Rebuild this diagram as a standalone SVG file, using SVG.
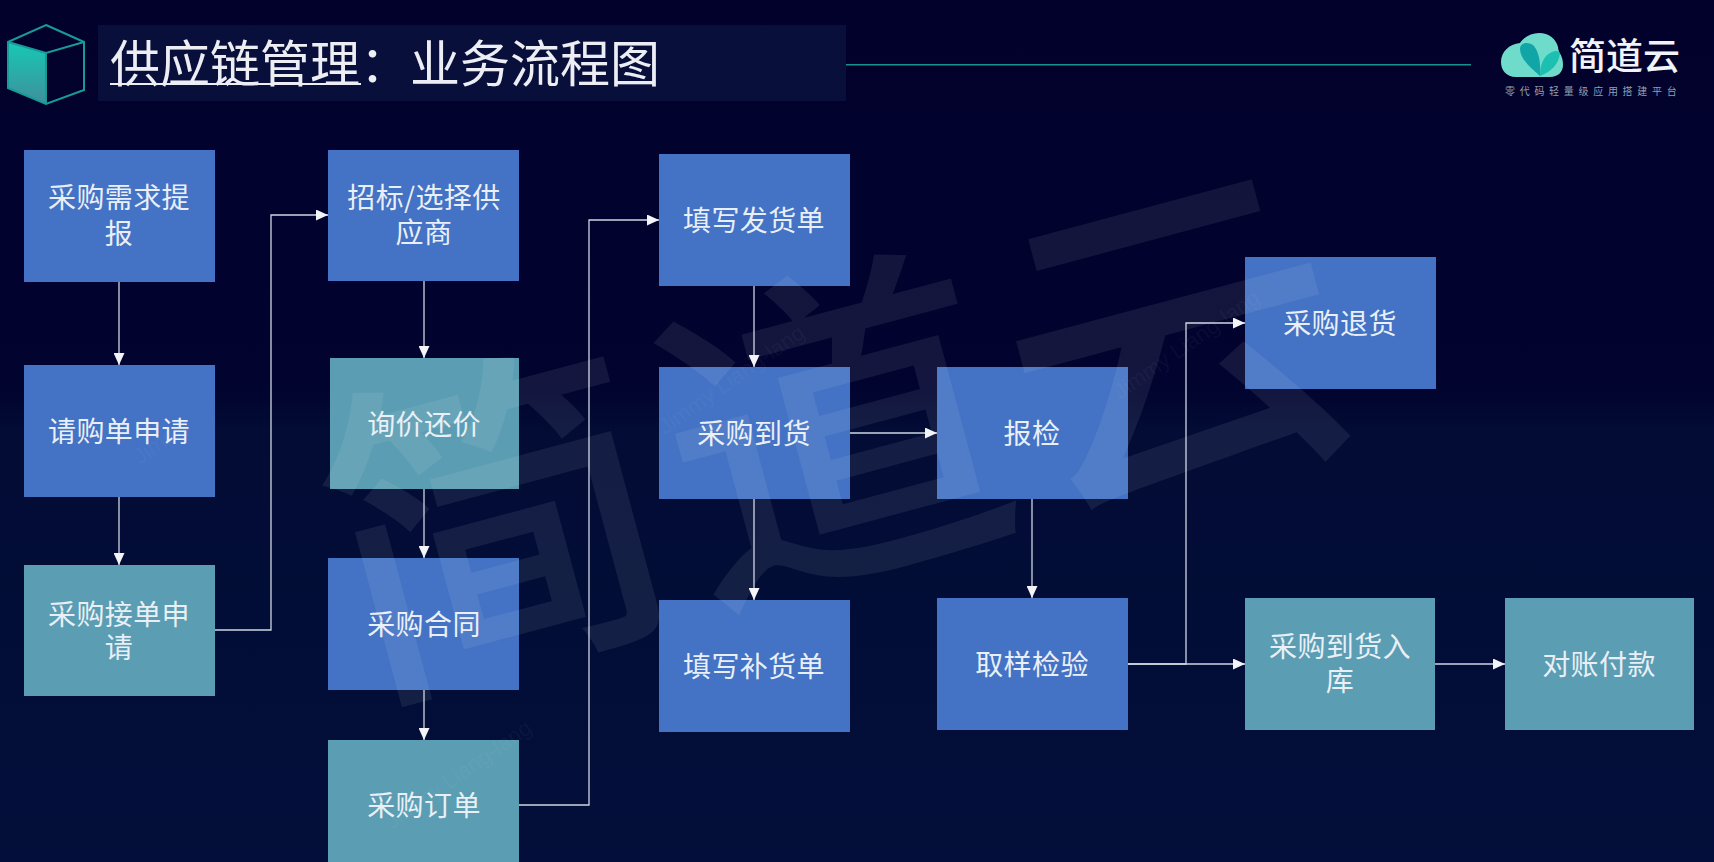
<svg xmlns="http://www.w3.org/2000/svg" width="1714" height="862" viewBox="0 0 1714 862">
<style>
.b{fill:#4472c4}.t{fill:#5b9db3}
.l{font-family:"Noto Sans CJK SC","Noto Sans",sans-serif;font-size:28px;fill:#e9eff6;text-anchor:middle;letter-spacing:.4px}
.c{fill:none;stroke:#cfd6e2;stroke-width:1.3;marker-end:url(#a)}
.wm{font-family:"Noto Sans CJK SC",sans-serif;fill:#fff;text-anchor:middle;font-weight:500}
.sm{font-family:"Liberation Sans",sans-serif;font-size:22px;fill:#fff;fill-opacity:.05}
</style>
<defs>
<linearGradient id="bg" x1="0" y1="0" x2="0" y2="1"><stop offset="0" stop-color="#01012c"/><stop offset=".45" stop-color="#01042f"/><stop offset=".5" stop-color="#020c35"/><stop offset="1" stop-color="#030f3a"/></linearGradient>
<linearGradient id="cube" x1="0" y1="0" x2="0" y2="1"><stop offset="0" stop-color="#16c9b4"/><stop offset="1" stop-color="#3f8f9c"/></linearGradient>
<marker id="a" markerUnits="userSpaceOnUse" markerWidth="12" markerHeight="11" refX="12" refY="5.5" orient="auto"><path d="M0 0L12 5.5L0 11Z" fill="#f2f4f8"/></marker>
</defs>
<rect width="1714" height="862" fill="url(#bg)"/>
<g id="header">
<rect x="98" y="25" width="748" height="76" fill="#080f3a"/>
<path d="M8 42L46 53V104L8 88Z" fill="url(#cube)"/>
<path d="M46 25L84 42V90L46 104L8 88V42ZM8 42L46 53L84 42M46 53V104" fill="none" stroke="#189a98" stroke-width="2"/>
<text x="110" y="82" font-family="'Noto Sans CJK SC',sans-serif" font-size="50" fill="#eceef4">供应链管理：业务流程图</text>
<rect x="110" y="83" width="251" height="2" fill="#eceef4"/>
<rect x="846" y="64" width="625" height="1.5" fill="#18928f"/>
</g>
<g id="logo">
<path d="M1516 77C1506 77 1501 70 1501 62C1501 52 1509 44 1520 43C1524 37 1531 33 1539 33C1549 33 1556 39 1558 47C1558 49 1559 51 1559 52C1562 56 1563 60 1563 65C1563 72 1558 77 1550 77Z" fill="#6fdccb"/>
<path d="M1540 76C1530 68 1520 58 1520 49C1520 43 1527 41 1533 45C1538 50 1541 60 1540 76Z" fill="#12a5a8"/>
<path d="M1540 76C1540 64 1544 55 1552 52C1556 50 1559 51 1560 53C1559 64 1551 72 1540 76Z" fill="#1cc0b0"/>
<text x="1569" y="70" font-family="'Noto Sans CJK SC',sans-serif" font-size="37" font-weight="500" fill="#f0f3f7">简道云</text>
<text x="1505" y="95" font-family="'Noto Sans CJK SC',sans-serif" font-size="10" letter-spacing="4.7" fill="#8fa0b4">零代码轻量级应用搭建平台</text>
</g>
<g id="n1"><rect class="b" x="24" y="150" width="191" height="132"/><text class="l" x="119" y="208">采购需求提</text><text class="l" x="119" y="244">报</text></g>
<g id="n2"><rect class="b" x="24" y="365" width="191" height="132"/><text class="l" x="119" y="442">请购单申请</text></g>
<g id="n3"><rect class="t" x="24" y="565" width="191" height="131"/><text class="l" x="119" y="625">采购接单申</text><text class="l" x="119" y="658">请</text></g>
<g id="n4"><rect class="b" x="328" y="150" width="191" height="131"/><text class="l" x="424" y="208">招标/选择供</text><text class="l" x="424" y="243">应商</text></g>
<g id="n5"><rect class="t" x="330" y="358" width="189" height="131"/><text class="l" x="424" y="435">询价还价</text></g>
<g id="n6"><rect class="b" x="328" y="558" width="191" height="132"/><text class="l" x="424" y="635">采购合同</text></g>
<g id="n7"><rect class="t" x="328" y="740" width="191" height="122"/><text class="l" x="424" y="816">采购订单</text></g>
<g id="n8"><rect class="b" x="659" y="154" width="191" height="132"/><text class="l" x="754" y="231">填写发货单</text></g>
<g id="n9"><rect class="b" x="659" y="367" width="191" height="132"/><text class="l" x="754" y="444">采购到货</text></g>
<g id="n10"><rect class="b" x="659" y="600" width="191" height="132"/><text class="l" x="754" y="677">填写补货单</text></g>
<g id="n11"><rect class="b" x="937" y="367" width="191" height="132"/><text class="l" x="1032" y="444">报检</text></g>
<g id="n12"><rect class="b" x="937" y="598" width="191" height="132"/><text class="l" x="1032" y="675">取样检验</text></g>
<g id="n13"><rect class="b" x="1245" y="257" width="191" height="132"/><text class="l" x="1340" y="334">采购退货</text></g>
<g id="n14"><rect class="t" x="1245" y="598" width="190" height="132"/><text class="l" x="1340" y="657">采购到货入</text><text class="l" x="1340" y="691">库</text></g>
<g id="n15"><rect class="t" x="1505" y="598" width="189" height="132"/><text class="l" x="1599" y="675">对账付款</text></g>
<g id="connectors">
<path class="c" d="M119 282V365"/>
<path class="c" d="M119 497V565"/>
<path class="c" d="M215 630H271V215H328"/>
<path class="c" d="M424 281V358"/>
<path class="c" d="M424 489V558"/>
<path class="c" d="M424 690V740"/>
<path class="c" d="M519 805H589V220H659"/>
<path class="c" d="M754 286V367"/>
<path class="c" d="M754 499V600"/>
<path class="c" d="M850 433H937"/>
<path class="c" d="M1032 499V598"/>
<path class="c" d="M1128 664H1245"/>
<path class="c" d="M1128 664H1186V323H1245"/>
<path class="c" d="M1435 664H1505"/>
</g>
<g id="watermark">
<text class="wm" x="842" y="556" font-size="340" fill-opacity=".075" letter-spacing="12" transform="rotate(-15 842 440)">简道云</text>
<text class="sm" x="140" y="465" transform="rotate(-35 140 465)">Jimmy</text>
<text class="sm" x="665" y="435" transform="rotate(-35 665 435)">Jimmy Liang-lang</text>
<text class="sm" x="1120" y="400" transform="rotate(-35 1120 400)">Jimmy Liang-lang</text>
<text class="sm" x="392" y="830" transform="rotate(-35 392 830)">Jimmy Liang-lang</text>
</g>
</svg>
